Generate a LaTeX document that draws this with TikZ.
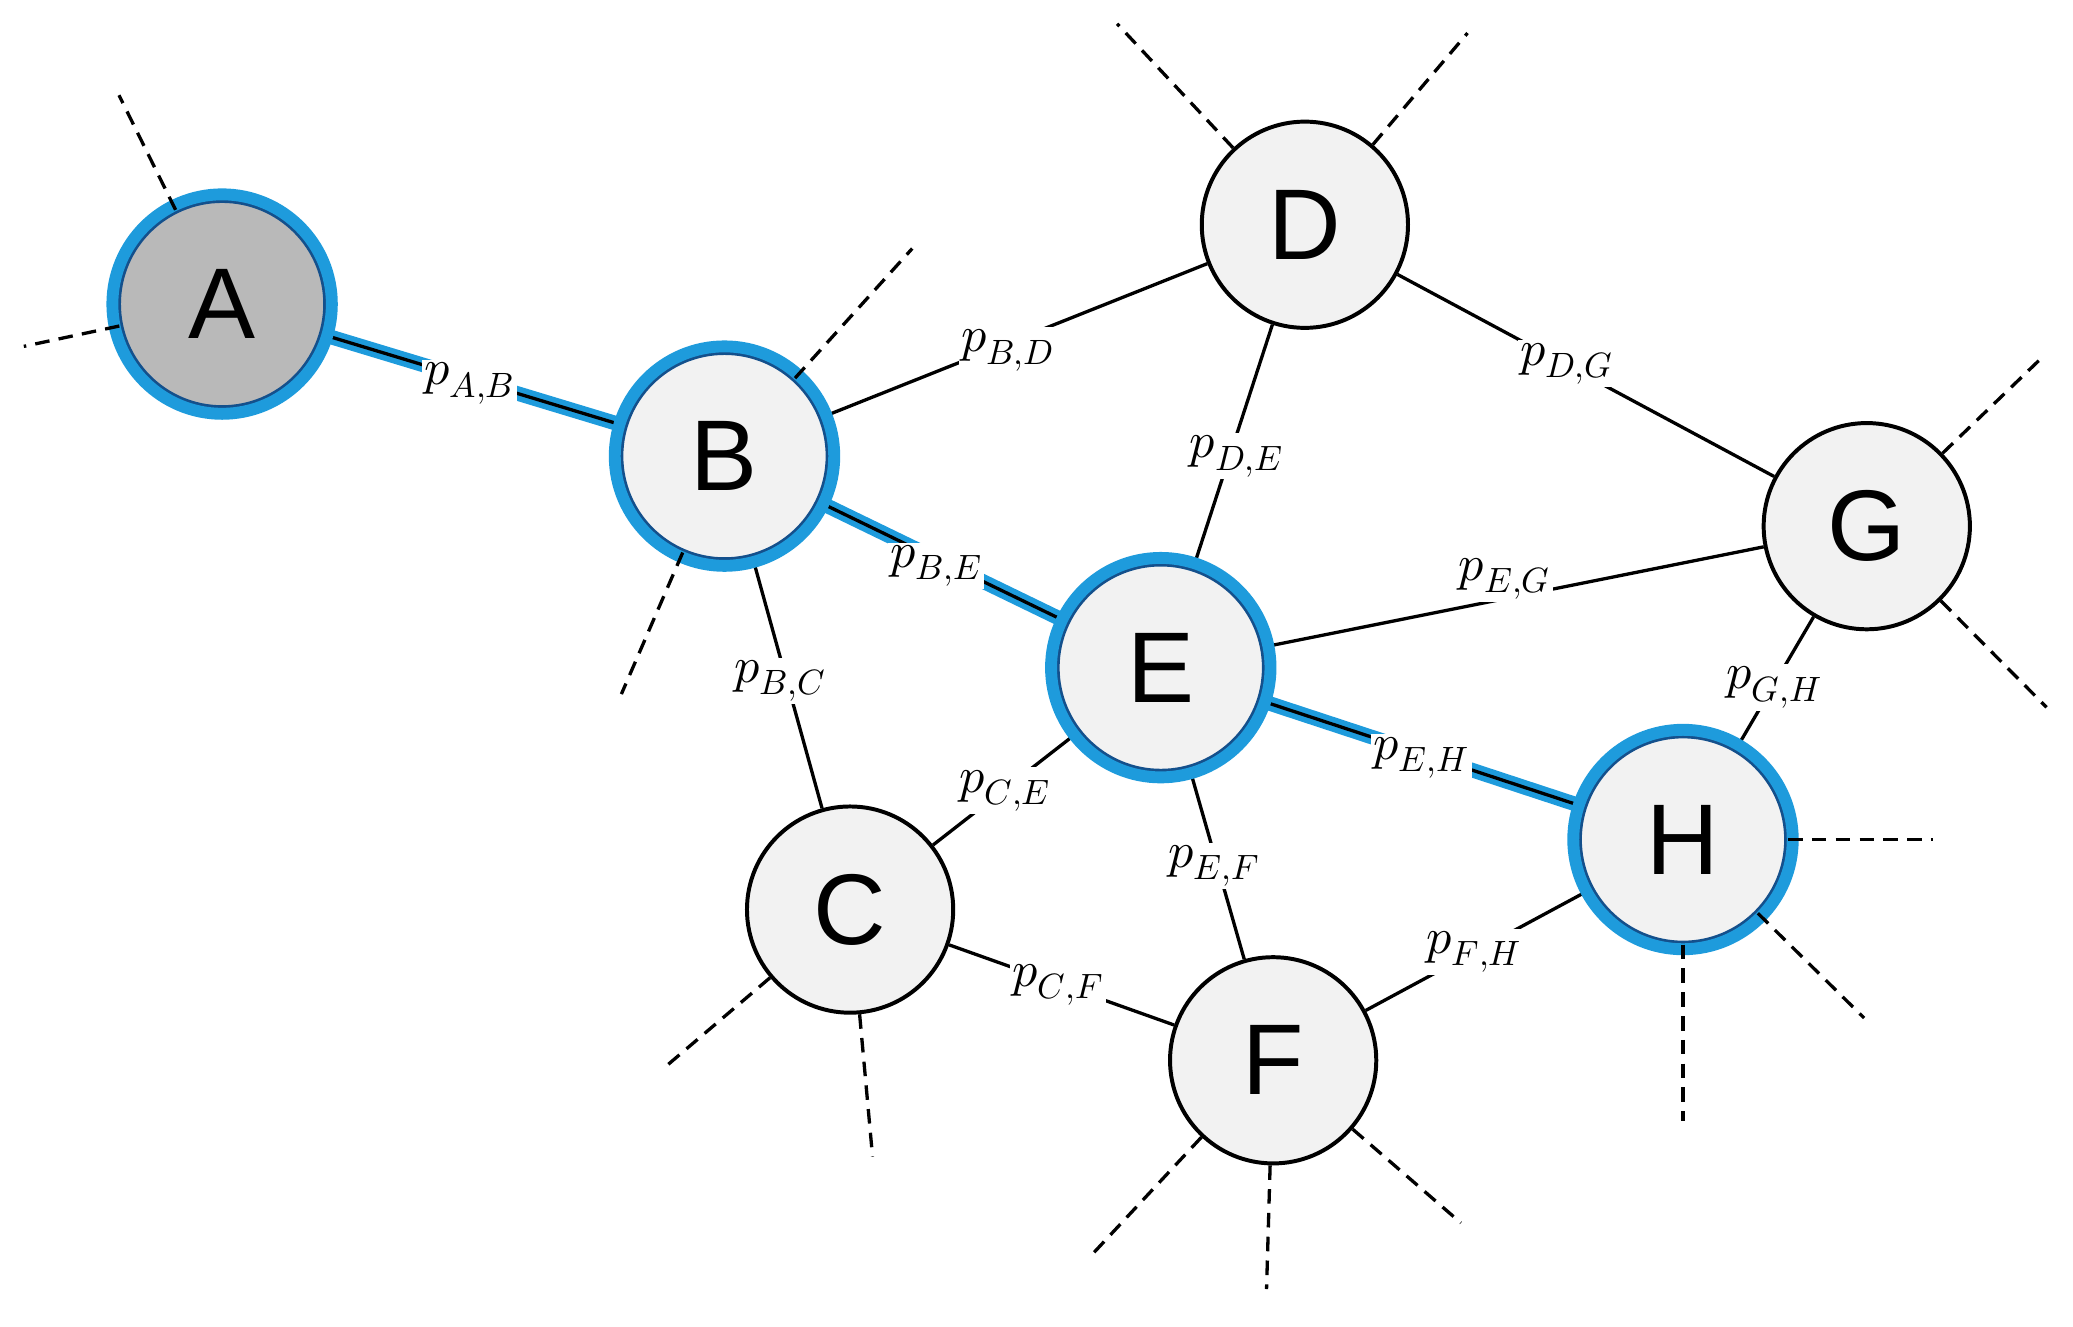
\documentclass[tikz,border=0pt]{standalone}
\usepackage{fontspec}
\setmainfont{Liberation Sans}
\usepackage{unicode-math}
\definecolor{hlblue}{RGB}{30,155,220}
\definecolor{dkblue}{RGB}{20,80,140}
\begin{document}
\begin{tikzpicture}[x=1pt,y=-1pt,
  nd/.style={circle,draw=black,line width=3pt,fill=gray!10,minimum size=156pt,inner sep=0pt,font=\fontsize{76}{80}\selectfont},
  hn/.style={nd,draw=dkblue},
  ring/.style={draw=hlblue,line width=9pt},
  edge/.style={line width=2.5pt},
  hedge/.style={line width=11pt,draw=hlblue},
  dsh/.style={line width=2.5pt,dash pattern=on 11pt off 7pt},
  lab/.style={fill=white,inner sep=2pt,font=\fontsize{38}{42}\selectfont}]
\useasboundingbox (0,0) rectangle (1568,1003);
\node[hn,fill=gray!100!black!55] (A) at (168,230) {A};
\node[hn] (B) at (548,345) {B};
\node[nd] (C) at (643,688) {C};
\node[nd] (D) at (987,170) {D};
\node[hn] (E) at (878,505) {E};
\node[nd] (F) at (963,802) {F};
\node[nd] (G) at (1412,398) {G};
\node[hn] (H) at (1273,635) {H};
% highlighted edges
\foreach \u/\v in {A/B,B/E,E/H}{\draw[hedge] (\u) -- (\v); \draw[edge] (\u) -- (\v);}
\foreach \u/\v in {B/D,D/G,D/E,E/G,B/C,C/E,E/F,G/H,C/F,F/H}{\draw[edge] (\u) -- (\v);}
% rings
\foreach \n in {A,B,E,H}{\draw[ring] (\n) circle (83pt);}
% dashed stubs
\coordinate (a1) at (90,72); \coordinate (a2) at (18,262);
\coordinate (b1) at (690,188); \coordinate (b2) at (470,525);
\coordinate (c1) at (502,808); \coordinate (c2) at (660,875);
\coordinate (d1) at (845,18); \coordinate (d2) at (1110,25);
\coordinate (f1) at (825,950); \coordinate (f2) at (958,975); \coordinate (f3) at (1105,925);
\coordinate (g1) at (1545,270); \coordinate (g2) at (1548,535);
\coordinate (h1) at (1462,635); \coordinate (h2) at (1410,770); \coordinate (h3) at (1273,848);
\foreach \n/\c in {A/a1,A/a2,C/c1,C/c2,D/d1,D/d2,F/f1,F/f2,F/f3,G/g1,G/g2}{\draw[dsh] (\n) -- (\c);}
\foreach \n/\c in {B/b1,B/b2,H/h1,H/h2,H/h3}{\draw[dsh] (\n.center) ++ (0,0) (\n) -- (\c);}
% labels
\node[lab] (lab) at (355,290) {$p_{A,B}$};
\node[lab] (lbd) at (762,265) {$p_{B,D}$};
\node[lab] (ldg) at (1185,275) {$p_{D,G}$};
\node[lab] (lde) at (935,345) {$p_{D,E}$};
\node[lab] (lbe) at (708,428) {$p_{B,E}$};
\node[lab] (leg) at (1138,438) {$p_{E,G}$};
\node[lab] (lbc) at (590,515) {$p_{B,C}$};
\node[lab] (lce) at (760,598) {$p_{C,E}$};
\node[lab] (lef) at (918,655) {$p_{E,F}$};
\node[lab] (leh) at (1075,573) {$p_{E,H}$};
\node[lab] (lgh) at (1342,520) {$p_{G,H}$};
\node[lab] (lcf) at (800,745) {$p_{C,F}$};
\node[lab] (lfh) at (1115,720) {$p_{F,H}$};
\end{tikzpicture}
\end{document}
